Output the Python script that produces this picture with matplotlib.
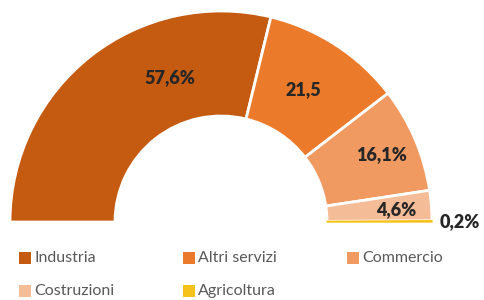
import numpy as np
import matplotlib
matplotlib.use("Agg")
import matplotlib.pyplot as plt
from matplotlib.patches import Rectangle

categories = ["Industria", "Altri servizi", "Commercio", "Costruzioni", "Agricoltura"]
values = [57.6, 21.5, 16.1, 4.6, 0.2]
labels = ["57,6%", "21,5", "16,1%", "4,6%", "0,2%"]
colors = ["#C55A11", "#EB7A2A", "#F09A62", "#F5BC98", "#F5C21B"]

W, H = 484, 300
fig = plt.figure(figsize=(W / 100, H / 100), dpi=100)
ax = fig.add_axes([0, 0, 1, 1])
ax.set_xlim(0, W)
ax.set_ylim(0, H)
ax.axis("off")

cx, cy = 221, H - 222
R_out, R_in = 211, 106
total = sum(values)

# half donut: add a hidden complement for the lower half
wedges, _ = ax.pie(values + [total], colors=colors + ["none"], startangle=180,
                   counterclock=False, center=(cx, cy), radius=R_out,
                   wedgeprops=dict(width=R_out - R_in, edgecolor="white", linewidth=2))
wedges[-1].set_edgecolor("none")
wedges[-2].set_edgecolor(colors[-1])
wedges[-2].set_linewidth(1.0)
ax.set_xlim(0, W)
ax.set_ylim(0, H)
ax.set_aspect("auto")

# label positions from mid-angle of each slice (manual nudge like the original)
angle_shift = [-18.5, 1.0, -0.5, -0.3, 0.0]
label_r = [153, 156, 174, 176, 239]
start = 180.0
for v, lab, sh, r in zip(values, labels, angle_shift, label_r):
    span = v / total * 180.0
    mid = start - span / 2 + sh
    start -= span
    x = cx + r * np.cos(np.radians(mid))
    y = cy + r * np.sin(np.radians(mid))
    ax.text(x, y, lab, ha="center", va="center", fontsize=13,
            fontweight="heavy", color="#262626", family="Lato")

# legend, 3 columns
x0, dx = 19, 164
y0, dy = H - 258, 33
sq = 12
for i, (cat, col) in enumerate(zip(categories, colors)):
    c, r = i % 3, i // 3
    x = x0 + c * dx
    y = y0 - r * dy
    ax.add_patch(Rectangle((x, y - sq / 2), sq, sq, facecolor=col, edgecolor="none"))
    ax.text(x + sq + 3, y, cat, ha="left", va="center", fontsize=11.5,
            color="#595959", family="Lato")

fig.savefig("out.png", dpi=100)
